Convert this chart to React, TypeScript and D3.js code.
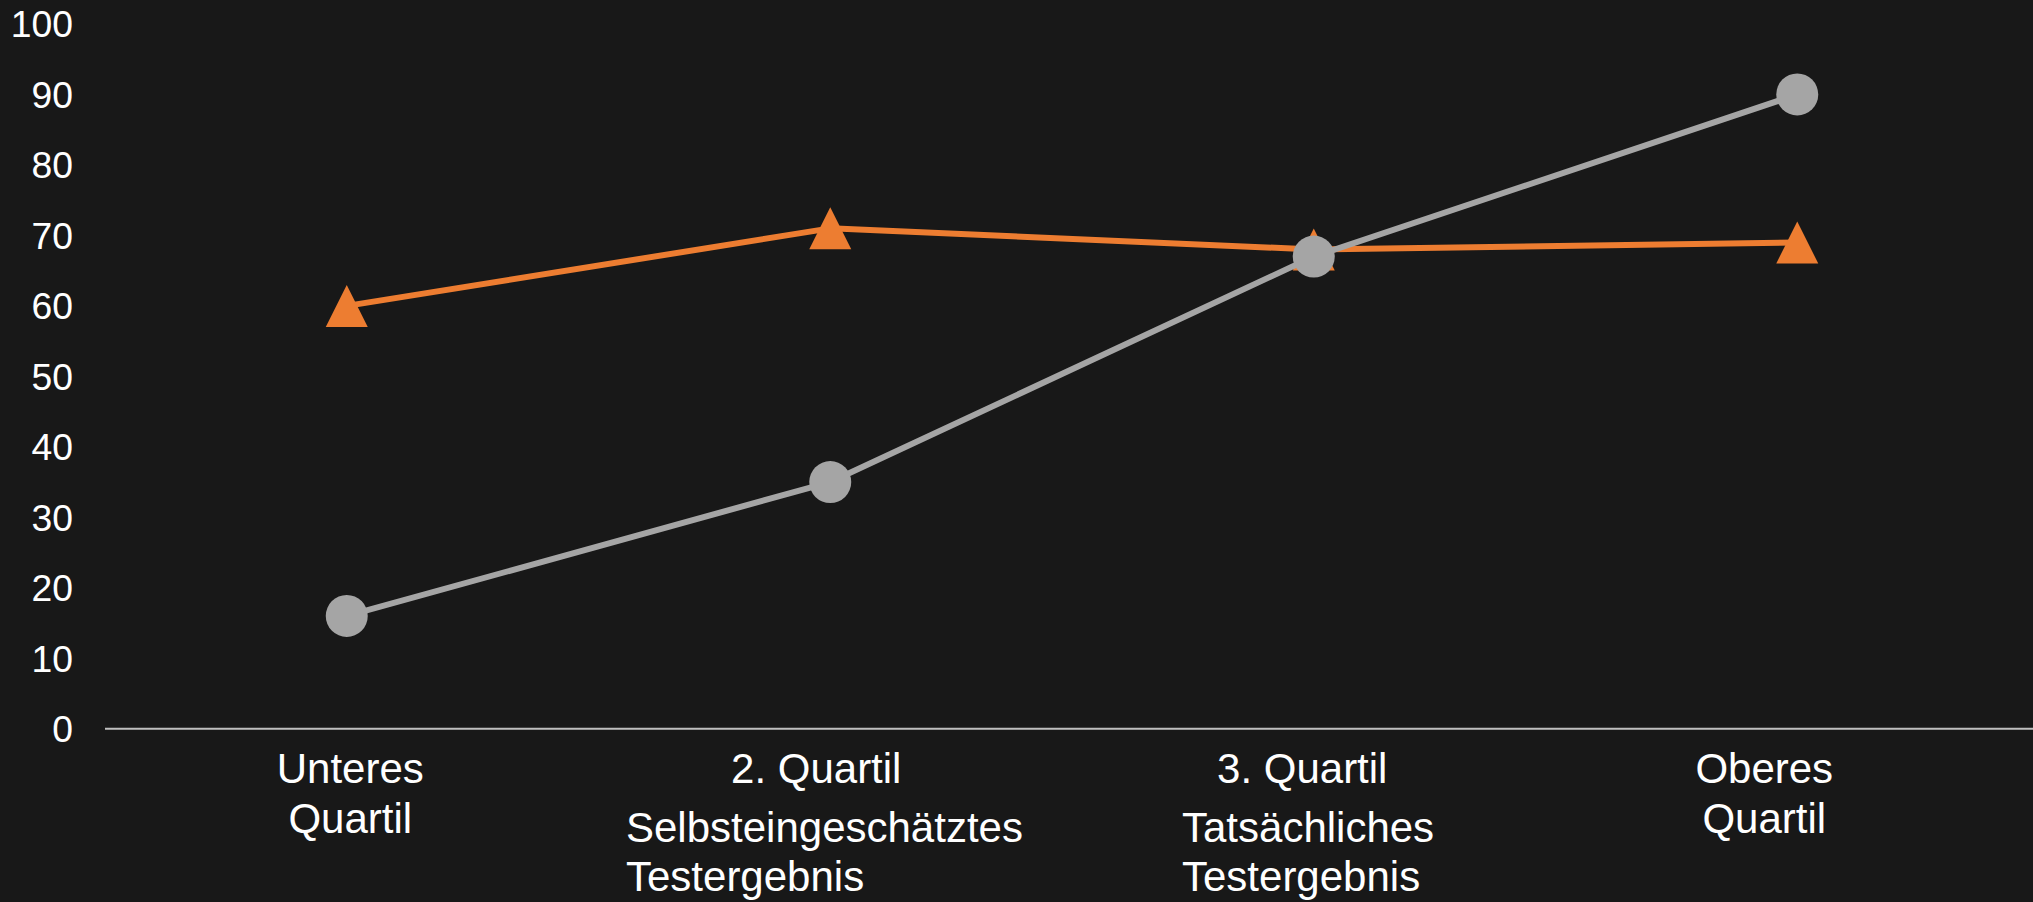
import React from "react";
import * as d3 from "d3";

const categories = ["Unteres Quartil", "2. Quartil", "3. Quartil", "Oberes Quartil"];
const categoryLines = [["Unteres", "Quartil"], ["2. Quartil"], ["3. Quartil"], ["Oberes", "Quartil"]];
const seriesNames = ["Selbsteingeschätztes Testergebnis", "Tatsächliches Testergebnis"];
const legendLines = [["Selbsteingeschätztes", "Testergebnis"], ["Tatsächliches", "Testergebnis"]];
const selfEstimated = [60, 71, 68, 69];
const actual = [16, 35, 67, 90];
const yTicks = [0, 10, 20, 30, 40, 50, 60, 70, 80, 90, 100];

const W = 2033;
const H = 902;
const BG = "#181818";
const ORANGE = "#ED7D31";
const GRAY = "#A5A5A5";
const FONT = "'Liberation Sans', Arial, Helvetica, sans-serif";
const labelDx = [3.5, -14, -11.5, -33];
const legendX = [626, 1182];

export default function App() {
  const x = d3.scaleBand<string>().domain(categories).range([105, 2039]).padding(0);
  const cx = (c: string) => (x(c) as number) + x.bandwidth() / 2;
  const y = d3.scaleLinear().domain([0, 100]).range([728.7, 24]);

  const line = d3
    .line<number>()
    .x((_, i) => cx(categories[i]))
    .y((d) => y(d));

  const r = 21;
  const tri = (px: number, py: number) =>
    `M${px},${py - r}L${px + r},${py + r}L${px - r},${py + r}Z`;

  React.useEffect(() => {
    document.body.style.margin = "0";
    document.body.style.background = BG;
  }, []);

  return (
    <svg width={W} height={H} style={{ display: "block", background: BG }} fontFamily={FONT}>
      <rect x={0} y={0} width={W} height={H} fill={BG} />
      {/* y tick labels */}
      {yTicks.map((t) => (
        <text key={t} x={73} y={y(t) + 0.358 * 37.3} fill="#ffffff" fontSize={37.3} textAnchor="end">
          {t}
        </text>
      ))}
      {/* x axis line */}
      <line x1={105} x2={W} y1={y(0)} y2={y(0)} stroke="#bfbfbf" strokeWidth={2} />
      {/* orange series */}
      <path d={line(selfEstimated) as string} fill="none" stroke={ORANGE} strokeWidth={6} strokeLinejoin="round" />
      {selfEstimated.map((v, i) => (
        <path key={"t" + i} d={tri(cx(categories[i]), y(v))} fill={ORANGE} />
      ))}
      {/* gray series */}
      <path d={line(actual) as string} fill="none" stroke={GRAY} strokeWidth={6} strokeLinejoin="round" />
      {actual.map((v, i) => (
        <circle key={"c" + i} cx={cx(categories[i])} cy={y(v)} r={r} fill={GRAY} />
      ))}
      {/* category labels */}
      {categoryLines.map((lines, i) =>
        lines.map((ln, j) => (
          <text
            key={"cl" + i + "-" + j}
            x={cx(categories[i]) + labelDx[i]}
            y={782.7 + j * 50.5}
            fill="#ffffff"
            fontSize={42}
            textAnchor="middle"
          >
            {ln}
          </text>
        ))
      )}
      {/* legend */}
      {legendLines.map((lines, i) => (
        <g key={"lg" + i}>
          <title>{seriesNames[i]}</title>
          {lines.map((ln, j) => (
            <text key={j} x={legendX[i]} y={841.7 + j * 49} fill="#ffffff" fontSize={42}>
              {ln}
            </text>
          ))}
        </g>
      ))}
    </svg>
  );
}
